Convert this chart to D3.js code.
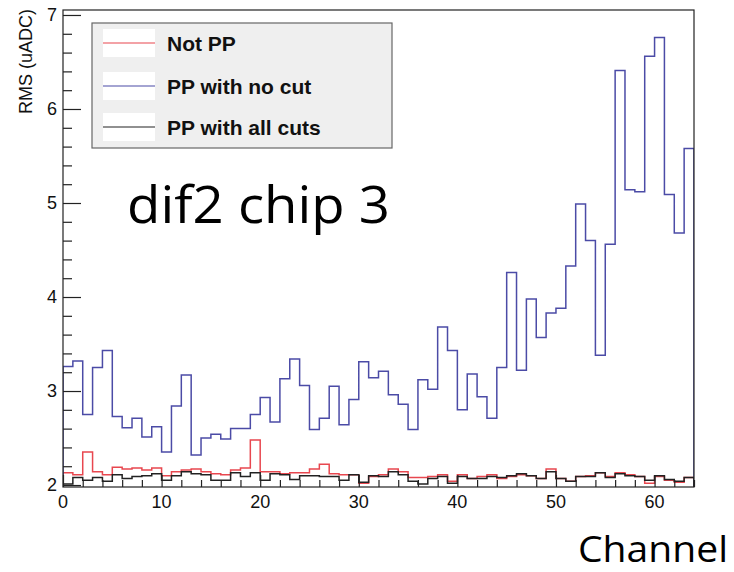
<!DOCTYPE html>
<html>
<head>
<meta charset="utf-8">
<script src="https://cdn.jsdelivr.net/npm/d3@7"></script>
<style>
  body { margin: 0; background: #fff; }
  svg { display: block; }
</style>
</head>
<body>
<svg id="chart" width="734" height="572"></svg>
<script>
// channel bins 0..63
var channels = d3.range(64);

var notPP = [2.13,2.11,2.35,2.14,2.11,2.19,2.17,2.18,2.16,2.18,2.10,2.14,2.16,2.17,2.14,2.12,
  2.11,2.16,2.18,2.48,2.14,2.14,2.12,2.13,2.13,2.17,2.22,2.12,2.11,2.11,2.02,2.09,
  2.11,2.17,2.14,2.08,2.08,2.09,2.11,2.04,2.11,2.07,2.09,2.11,2.07,2.09,2.11,2.10,
  2.07,2.17,2.07,2.04,2.09,2.10,2.13,2.09,2.13,2.11,2.09,2.02,2.09,2.05,2.03,2.08];

var ppNoCut = [3.26,3.32,2.75,3.25,3.43,2.73,2.61,2.71,2.51,2.62,2.35,2.84,3.17,2.32,2.50,2.54,
  2.49,2.60,2.60,2.75,2.93,2.67,3.13,3.34,3.06,2.59,2.71,3.05,2.64,2.91,3.31,3.14,
  3.21,2.96,2.86,2.59,3.12,3.02,3.68,3.43,2.80,3.18,2.94,2.71,3.25,4.26,3.22,3.98,
  3.57,3.83,3.88,4.33,4.99,4.60,3.38,4.56,6.41,5.14,5.12,6.56,6.76,5.09,4.68,5.58];

var ppAllCuts = [2.01,2.08,2.05,2.08,2.04,2.11,2.07,2.09,2.10,2.12,2.05,2.10,2.14,2.12,2.11,2.05,
  2.05,2.13,2.09,2.13,2.05,2.12,2.11,2.06,2.10,2.10,2.09,2.09,2.05,2.11,2.03,2.10,
  2.09,2.14,2.11,2.04,2.01,2.07,2.09,2.02,2.09,2.07,2.07,2.09,2.08,2.10,2.12,2.10,
  2.07,2.14,2.07,2.04,2.09,2.09,2.13,2.08,2.12,2.10,2.09,2.05,2.10,2.06,2.04,2.08];

var seriesNames = ["Not PP", "PP with no cut", "PP with all cuts"];
var seriesColors = ["#e8474f", "#4b4ba6", "#222222"];
var yTicks = [2, 3, 4, 5, 6, 7];
var xTicks = [0, 10, 20, 30, 40, 50, 60];

var svg = d3.select("#chart");
var padL = 63, padR = 694, padT = 10, padB = 487;

var x = d3.scaleLinear().domain([0, 64]).range([padL, padR]);
var y = d3.scaleLinear().domain([1.979, 7.053]).range([padB, padT]);

svg.append("clipPath").attr("id", "plotclip")
  .append("rect").attr("x", padL).attr("y", padT)
  .attr("width", padR - padL).attr("height", padB - padT);

// step outline like a ROOT histogram
function histPoints(vals) {
  var pts = [[0, y.domain()[0]]];
  channels.forEach(function(c) {
    pts.push([c, vals[c]]);
    pts.push([c + 1, vals[c]]);
  });
  pts.push([64, y.domain()[0]]);
  return pts;
}

var line = d3.line()
  .x(function(d) { return x(d[0]); })
  .y(function(d) { return y(d[1]); });

var hists = [notPP, ppNoCut, ppAllCuts];
svg.append("g").attr("clip-path", "url(#plotclip)")
  .selectAll("path")
  .data(hists)
  .enter()
  .append("path")
    .attr("d", function(d) { return line(histPoints(d)); })
    .attr("fill", "none")
    .attr("stroke", function(d, i) { return seriesColors[i]; })
    .attr("stroke-width", 1.5);

// frame
svg.append("rect")
  .attr("x", padL).attr("y", padT)
  .attr("width", padR - padL).attr("height", padB - padT)
  .attr("fill", "none").attr("stroke", "#222").attr("stroke-width", 1.2);

// y axis ticks (inside)
var yAxis = d3.axisRight(y)
  .tickValues(d3.range(2, 7.01, 0.2))
  .tickSize(0)
  .tickFormat("");
var yg = svg.append("g").attr("transform", "translate(" + padL + ",0)").call(yAxis);
yg.select(".domain").remove();
yg.selectAll(".tick").append("line")
  .attr("x2", function(d) { return Math.abs(d - Math.round(d)) < 1e-6 ? 18 : 9; })
  .attr("stroke", "#222").attr("stroke-width", 1.2);

svg.append("g").selectAll("text")
  .data(yTicks)
  .enter()
  .append("text")
    .attr("x", padL - 6)
    .attr("y", function(d) { return y(d) + 6; })
    .attr("text-anchor", "end")
    .attr("font-family", "Liberation Sans, Arial, sans-serif")
    .attr("font-size", 18)
    .attr("fill", "#111")
    .text(function(d) { return d; });

// x axis ticks (inside)
var xAxis = d3.axisTop(x)
  .tickValues(d3.range(0, 64.01, 2))
  .tickSize(0)
  .tickFormat("");
var xg = svg.append("g").attr("transform", "translate(0," + padB + ")").call(xAxis);
xg.select(".domain").remove();
xg.selectAll(".tick").append("line")
  .attr("y2", function(d) { return d % 10 === 0 ? -12 : -7; })
  .attr("stroke", "#222").attr("stroke-width", 1.2);

svg.append("g").selectAll("text")
  .data(xTicks)
  .enter()
  .append("text")
    .attr("x", function(d) { return x(d); })
    .attr("y", 508)
    .attr("text-anchor", "middle")
    .attr("font-family", "Liberation Sans, Arial, sans-serif")
    .attr("font-size", 18)
    .attr("fill", "#111")
    .text(function(d) { return d; });

// y title
svg.append("text")
  .attr("transform", "translate(32,9) rotate(-90)")
  .attr("text-anchor", "end")
  .attr("font-family", "Liberation Sans, Arial, sans-serif")
  .attr("font-size", 18)
  .attr("fill", "#111")
  .text("RMS (uADC)");

// legend
var leg = svg.append("g");
leg.append("rect")
  .attr("x", 92).attr("y", 23).attr("width", 300).attr("height", 125)
  .attr("fill", "#efefef").attr("stroke", "#666").attr("stroke-width", 1.2);

var rows = leg.selectAll("g.entry")
  .data(seriesNames)
  .enter()
  .append("g")
    .attr("class", "entry")
    .attr("transform", function(d, i) { return "translate(0," + [43, 86, 127][i] + ")"; });

rows.append("rect")
  .attr("x", 103).attr("y", -14).attr("width", 52).attr("height", 28)
  .attr("fill", "#fff");
rows.append("line")
  .attr("x1", 103).attr("x2", 155)
  .attr("stroke", function(d, i) { return seriesColors[i]; })
  .attr("stroke-width", 1.2);
rows.append("text")
  .attr("x", 167).attr("y", 8)
  .attr("font-family", "Liberation Sans, Arial, sans-serif")
  .attr("font-weight", "bold")
  .attr("font-size", 21)
  .attr("fill", "#111")
  .text(function(d) { return d; });

// annotations
svg.append("text")
  .attr("x", 127).attr("y", 223)
  .attr("font-family", "Open Sans, Noto Sans, sans-serif")
  .attr("font-size", 52)
  .attr("textLength", 263)
  .attr("lengthAdjust", "spacingAndGlyphs")
  .attr("fill", "#000")
  .text("dif2 chip 3");

svg.append("text")
  .attr("x", 578).attr("y", 562)
  .attr("font-family", "Open Sans, Noto Sans, sans-serif")
  .attr("font-size", 37)
  .attr("textLength", 150)
  .attr("lengthAdjust", "spacingAndGlyphs")
  .attr("fill", "#000")
  .text("Channel");
</script>
</body>
</html>
